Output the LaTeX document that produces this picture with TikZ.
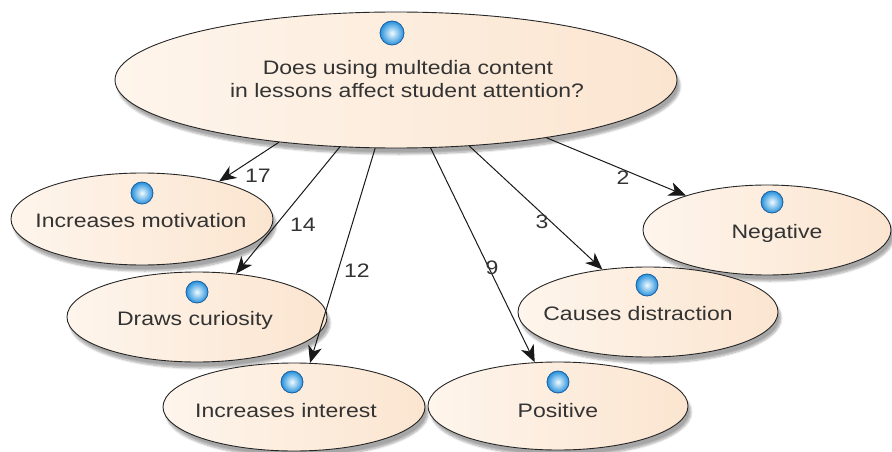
\documentclass[tikz,border=0pt]{standalone}
\usepackage{fontspec}
\setmainfont[FakeStretch=1.18]{Liberation Sans}
\usetikzlibrary{arrows.meta,shapes.geometric,shadows.blur}
\definecolor{peachL}{HTML}{FEF5EC}
\definecolor{peachR}{HTML}{FBE5D0}
\definecolor{ink}{HTML}{333333}
\definecolor{ballIn}{HTML}{F0FBFF}
\definecolor{ballOut}{HTML}{2590DC}
\definecolor{ballRim}{HTML}{1A5E9E}
\tikzset{
 bubble/.style={ellipse, draw=black!85, line width=0.9pt, left color=peachL, right color=peachR, inner sep=0pt,
   blur shadow={shadow xshift=3pt, shadow yshift=-6pt, shadow blur steps=8, shadow opacity=35}},
 txt/.style={font=\fontsize{19.5}{22}\selectfont, text=ink, inner sep=0pt, anchor=base},
 ball/.style={circle, minimum size=22pt, inner sep=0pt, draw=ballRim, line width=0.8pt, inner color=ballIn, outer color=ballOut},
 link/.style={draw=black!90, line width=1pt, -{Stealth[length=17pt,width=14pt,inset=5pt]}},
 num/.style={font=\fontsize{19.5}{22}\selectfont, text=ink, inner sep=0pt},
}
\begin{document}
\begin{tikzpicture}[x=1pt,y=-1pt]
\useasboundingbox (0,0) rectangle (892,452);
% nodes
\node[bubble, minimum width=562pt, minimum height=136pt] (main) at (396,80) {};
\node[bubble, minimum width=262pt, minimum height=92pt] (mot) at (142,219) {};
\node[bubble, minimum width=260pt, minimum height=90pt] (cur) at (197,317) {};
\node[bubble, minimum width=262pt, minimum height=88pt] (int) at (294,407) {};
\node[bubble, minimum width=260pt, minimum height=88pt] (pos) at (558,406) {};
\node[bubble, minimum width=248pt, minimum height=90pt] (neg) at (767,230) {};
\node[bubble, minimum width=260pt, minimum height=90pt] (dis) at (648,312) {};
% balls
\node[ball, minimum size=24pt] (bmain) at (392,33) {};
\node[ball] (bmot) at (142,193) {};
\node[ball] (bcur) at (197,292) {};
\node[ball] (bint) at (292,382) {};
\node[ball] (bpos) at (558,382) {};
\node[ball] (bdis) at (647,285) {};
\node[ball] (bneg) at (772,202) {};
% texts
\node[txt] (tq1) at (408,75) {Does using multedia content};
\node[txt] (tq2) at (407,97) {in lessons affect student attention?};
\node[txt] (tmot) at (141,227) {Increases motivation};
\node[txt] (tcur) at (195,325) {Draws curiosity};
\node[txt] (tint) at (286,417) {Increases interest};
\node[txt] (tpos) at (558,417) {Positive};
\node[txt] (tdis) at (638,320) {Causes distraction};
\node[txt] (tneg) at (777,238) {Negative};
% connectors
\draw[link] (main.208) -- (mot.26);
\draw[link] (main.230) -- (cur.48);
\draw[link] (main.253) -- (int.70);
\draw[link] (main.297) -- (pos.118);
\draw[link] (main.318) -- (dis.137);
\draw[link] (main.339) -- (neg.157);
% labels
\node[num] (l17) at (258,176) {17};
\node[num] (l14) at (303,225) {14};
\node[num] (l12) at (357,271) {12};
\node[num] (l9) at (492,268) {9};
\node[num] (l3) at (542,222) {3};
\node[num] (l2) at (623,178) {2};
\end{tikzpicture}
\end{document}
